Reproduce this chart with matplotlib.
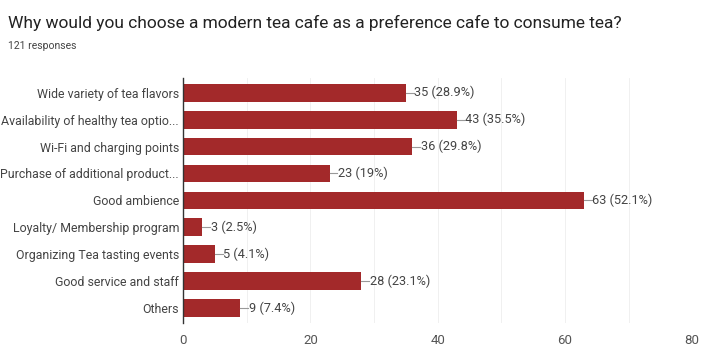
import matplotlib
matplotlib.use('Agg')
import matplotlib.pyplot as plt
import numpy as np

plt.rcParams['font.family'] = ['Roboto', 'DejaVu Sans']

categories = [
    "Wide variety of tea flavors",
    "Availability of healthy tea optio...",
    "Wi-Fi and charging points",
    "Purchase of additional product...",
    "Good ambience",
    "Loyalty/ Membership program",
    "Organizing Tea tasting events",
    "Good service and staff",
    "Others",
]
counts = [35, 43, 36, 23, 63, 3, 5, 28, 9]
percents = ["28.9%", "35.5%", "29.8%", "19%", "52.1%", "2.5%", "4.1%", "23.1%", "7.4%"]
xticks = [0, 20, 40, 60, 80]

BAR = "#a3292a"
TXT = "#444444"

fig = plt.figure(figsize=(7.02, 3.51), dpi=100)
ax = fig.add_axes([0.261, 0.08, 0.725, 0.698])

y = np.arange(len(categories))
ax.barh(y, counts, height=0.66, color=BAR, zorder=3)
ax.set_ylim(len(categories) - 0.45, -0.55)
ax.set_xlim(0, 80)

for yi, c, p in zip(y, counts, percents):
    ax.plot([c, c + 1.2], [yi, yi], color="#999999", lw=0.8, zorder=3)
    ax.text(c + 1.3, yi, f"{c} ({p})", va="center", ha="left",
            fontsize=9.2, color=TXT)

ax.set_yticks(y)
ax.set_yticklabels(categories, fontsize=8.9, color=TXT)
ax.set_xticks(xticks)
ax.set_xticklabels([str(t) for t in xticks], fontsize=9.5, color="#555555")
ax.set_xticks(np.arange(0, 81, 10), minor=True)
ax.grid(axis="x", which="both", color="#eeeeee", lw=0.6, zorder=0)
ax.tick_params(axis="both", which="both", length=0, pad=3)
ax.tick_params(axis="x", pad=8)
for s in ["top", "right", "bottom"]:
    ax.spines[s].set_visible(False)
ax.spines["left"].set_color("#333333")
ax.spines["left"].set_linewidth(1.0)
ax.spines["left"].set_zorder(4)

fig.text(0.011, 0.935, "Why would you choose a modern tea cafe as a preference cafe to consume tea?",
         fontsize=12.5, color="#222222", ha="left", va="center")
fig.text(0.011, 0.87, "121 responses", fontsize=7.5, color="#444444", ha="left", va="center")

fig.savefig("out.png", dpi=100)
